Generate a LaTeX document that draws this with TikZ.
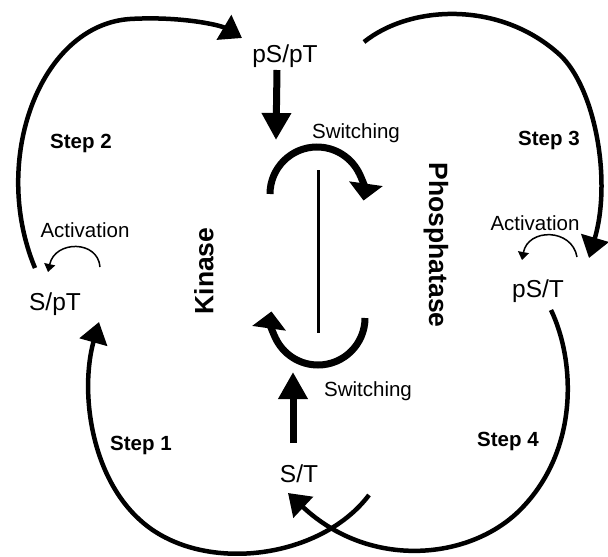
\documentclass[tikz,border=0pt]{standalone}
\usepackage{fontspec}
\setmainfont{Liberation Sans}
\usetikzlibrary{arrows.meta}
\begin{document}
\begin{tikzpicture}[x=1pt,y=-1pt,
  big/.style={line width=4.5pt,-{Triangle[width=28pt,length=21pt]}},
  switcharc/.style={line width=7pt,-{Triangle[width=33pt,length=17pt]}},
  thickarrow/.style={line width=7pt,-{Triangle[width=28pt,length=27pt]}},
  act/.style={line width=1.5pt,-{Triangle[width=11pt,length=8pt]}},
  state/.style={inner sep=0pt,anchor=base,font=\fontsize{24.5}{28}\selectfont},
  lbl/.style={inner sep=0pt,anchor=base,font=\fontsize{20.5}{24}\selectfont},
  steplbl/.style={inner sep=0pt,anchor=base,font=\fontsize{20.5}{24}\selectfont\bfseries},
  enz/.style={inner sep=0pt,font=\fontsize{26.5}{30}\selectfont\bfseries}]
\useasboundingbox (0,0) rectangle (608,557);
% state labels
\node[state] (pSpT) at (285,62) {pS/pT};
\node[state] (SpT) at (55,310) {S/pT};
\node[state] (pST) at (538,297) {pS/T};
\node[state] (ST) at (299,482) {S/T};
% other labels
\node[lbl] (sw1) at (356,138) {Switching};
\node[lbl] (sw2) at (368,396) {Switching};
\node[lbl] (act1) at (85,237) {Activation};
\node[lbl] (act2) at (535,230) {Activation};
\node[steplbl] (st1) at (141,450) {Step 1};
\node[steplbl] (st2) at (81,148) {Step 2};
\node[steplbl] (st3) at (549,145) {Step 3};
\node[steplbl] (st4) at (508,446) {Step 4};
\node[enz,rotate=90] (kin) at (204,271) {Kinase};
\node[enz,rotate=-90] (pho) at (436,245) {Phosphatase};
% connector end points
\coordinate (s2a) at (35,268);  \coordinate (s2b) at (242,38);
\coordinate (s3a) at (364,42);  \coordinate (s3b) at (589,258);
\coordinate (s4a) at (551,310); \coordinate (s4b) at (288,493);
\coordinate (s1a) at (369,495); \coordinate (s1b) at (99,322);
\coordinate (dA) at (277,70);   \coordinate (dB) at (276,140);
\coordinate (uA) at (293,443);  \coordinate (uB) at (293,372);
\coordinate (vA) at (318,170);  \coordinate (vB) at (318,333);
\coordinate (a1a) at (100,267); \coordinate (a1b) at (48,272);
\coordinate (a2a) at (577,257); \coordinate (a2b) at (522,260);
% big cycle arrows
\draw[big] (s2a) .. controls (-10,160) and (40,25) .. (130,19)
  .. controls (180,16) and (220,25) .. (s2b);
\draw[big] (s3a) .. controls (410,5) and (500,0) .. (560,55)
  .. controls (595,88) and (612,180) .. (s3b);
\draw[big] (s4a) .. controls (575,360) and (580,450) .. (520,510)
  .. controls (470,560) and (370,570) .. (s4b);
\draw[big] (s1a) .. controls (320,560) and (200,575) .. (140,520)
  .. controls (90,475) and (80,390) .. (s1b);
% activation arrows
\draw[act] (a1a) .. controls (98,240) and (55,240) .. (a1b);
\draw[act] (a2a) .. controls (572,228) and (528,228) .. (a2b);
% central switching
\draw[thickarrow] (dA) -- (dB);
\draw[thickarrow] (uA) -- (uB);
\draw[line width=3pt] (vA) -- (vB);
\draw[switcharc] (270,194) arc[start angle=180,end angle=368,radius=47];
\draw[switcharc] (365,318) arc[start angle=0,end angle=188,radius=47];
\end{tikzpicture}
\end{document}
